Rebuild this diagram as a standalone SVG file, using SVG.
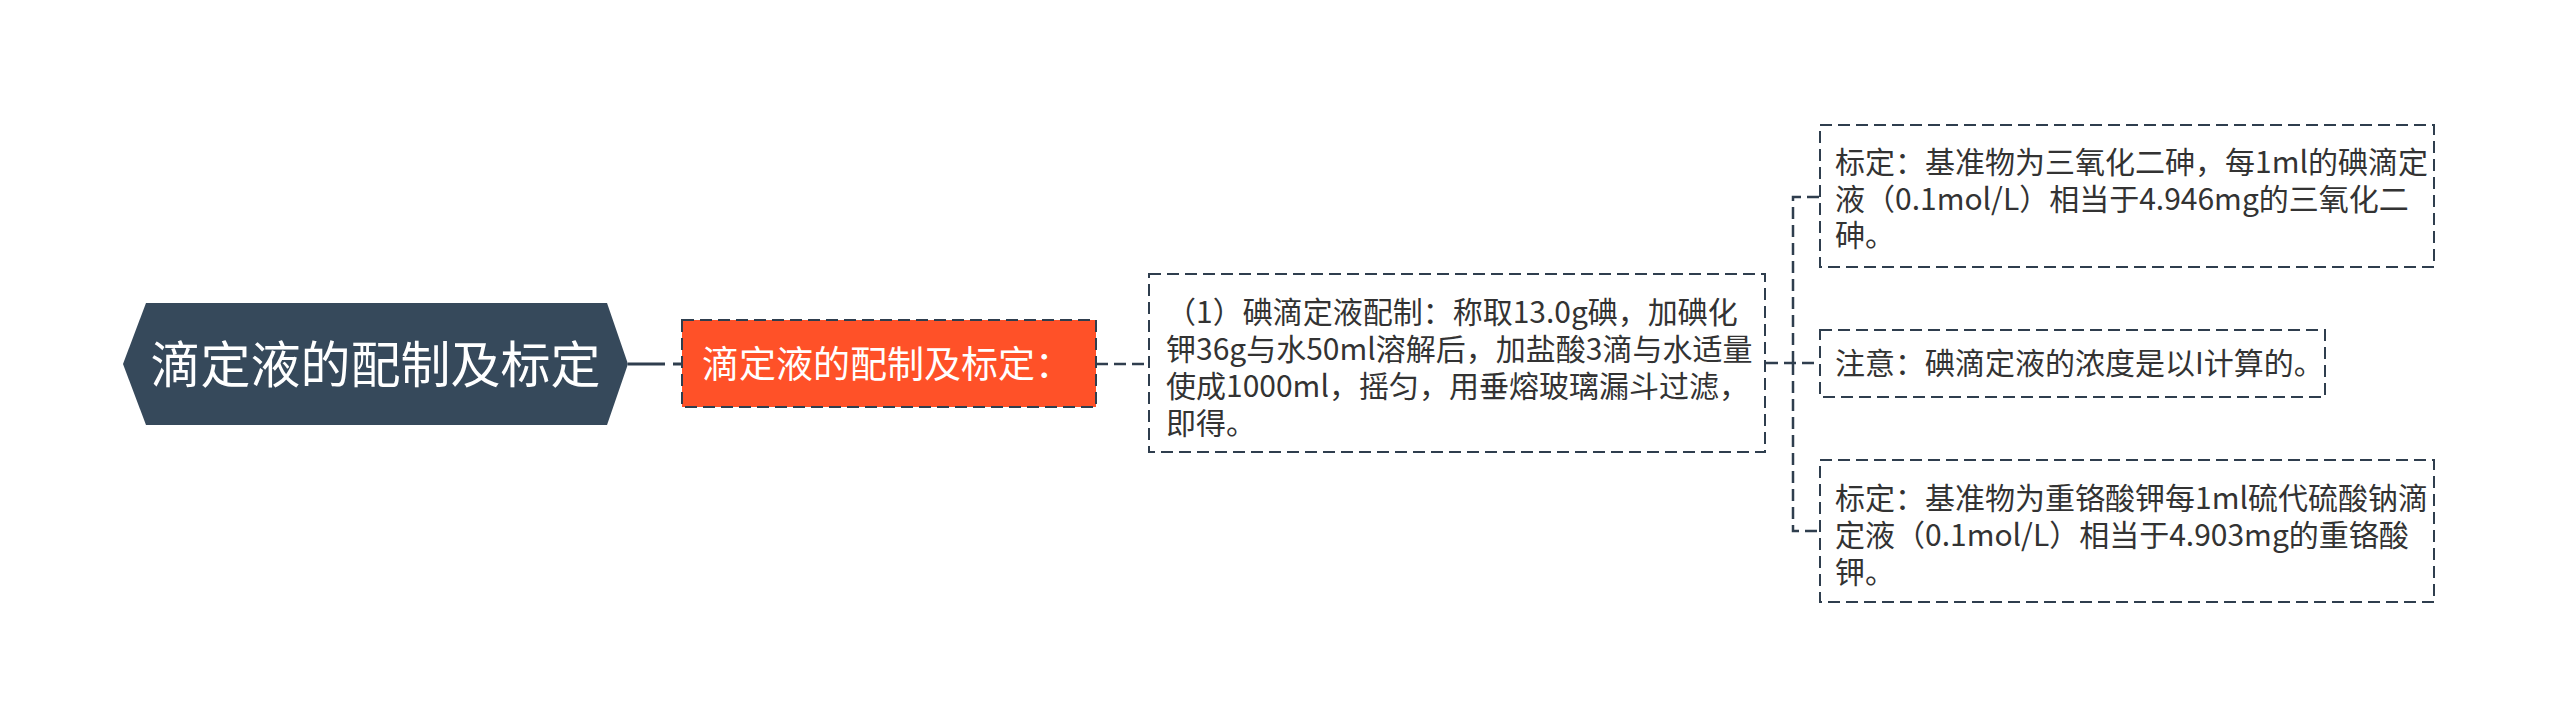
<svg xmlns="http://www.w3.org/2000/svg" width="2560" height="728" viewBox="0 0 2560 728">
  <style>
    .t { font-family: "Noto Sans CJK SC", "Noto Sans", sans-serif; }
    .body { font-size: 30px; fill: #333333; }
    .box { fill: #ffffff; stroke: #2f3e4e; stroke-width: 2; stroke-dasharray: 12 6; }
    .conn { fill: none; stroke: #2f3e4e; stroke-width: 2.5; stroke-dasharray: 12 6; }
  </style>
  <rect width="2560" height="728" fill="#ffffff"/>
  <g id="connectors">
    <line x1="628" y1="364" x2="665" y2="364" stroke="#2f3e4e" stroke-width="3"/>
    <line x1="673" y1="364" x2="682" y2="364" stroke="#2f3e4e" stroke-width="3"/>
    <path class="conn" d="M1096 364 H1148"/>
    <path class="conn" d="M1766 363 H1820"/>
    <path class="conn" d="M1793 363 V197 H1820"/>
    <path class="conn" d="M1793 363 V531 H1820"/>
  </g>
  <g id="root">
    <polygon points="123,364 146,303 607,303 628,364 607,425 146,425" fill="#36495b"/>
    <text class="t" x="375.5" y="383" font-size="50" fill="#ffffff" text-anchor="middle">滴定液的配制及标定</text>
  </g>
  <g id="sub">
    <rect x="682" y="320" width="414" height="87" fill="#ff5128" stroke="#2f3e4e" stroke-width="2" stroke-dasharray="12 6"/>
    <text class="t" x="702" y="378" font-size="37" fill="#ffffff">滴定液的配制及标定：</text>
  </g>
  <g id="prep">
    <rect class="box" x="1149" y="274" width="616" height="178"/>
    <text class="t body">
      <tspan x="1166" y="323">（1）碘滴定液配制：称取13.0g碘，加碘化</tspan>
      <tspan x="1166" y="360">钾36g与水50ml溶解后，加盐酸3滴与水适量</tspan>
      <tspan x="1166" y="397">使成1000ml，摇匀，用垂熔玻璃漏斗过滤，</tspan>
      <tspan x="1166" y="434">即得。</tspan>
    </text>
  </g>
  <g id="calib1">
    <rect class="box" x="1820" y="125" width="614" height="142"/>
    <text class="t body">
      <tspan x="1835" y="173">标定：基准物为三氧化二砷，每1ml的碘滴定</tspan>
      <tspan x="1835" y="210">液（0.1mol/L）相当于4.946mg的三氧化二</tspan>
      <tspan x="1835" y="246">砷。</tspan>
    </text>
  </g>
  <g id="note">
    <rect class="box" x="1820" y="330" width="505" height="67"/>
    <text class="t body" x="1835" y="374">注意：碘滴定液的浓度是以I计算的。</text>
  </g>
  <g id="calib2">
    <rect class="box" x="1820" y="460" width="614" height="142"/>
    <text class="t body">
      <tspan x="1835" y="509">标定：基准物为重铬酸钾每1ml硫代硫酸钠滴</tspan>
      <tspan x="1835" y="546">定液（0.1mol/L）相当于4.903mg的重铬酸</tspan>
      <tspan x="1835" y="583">钾。</tspan>
    </text>
  </g>
</svg>
